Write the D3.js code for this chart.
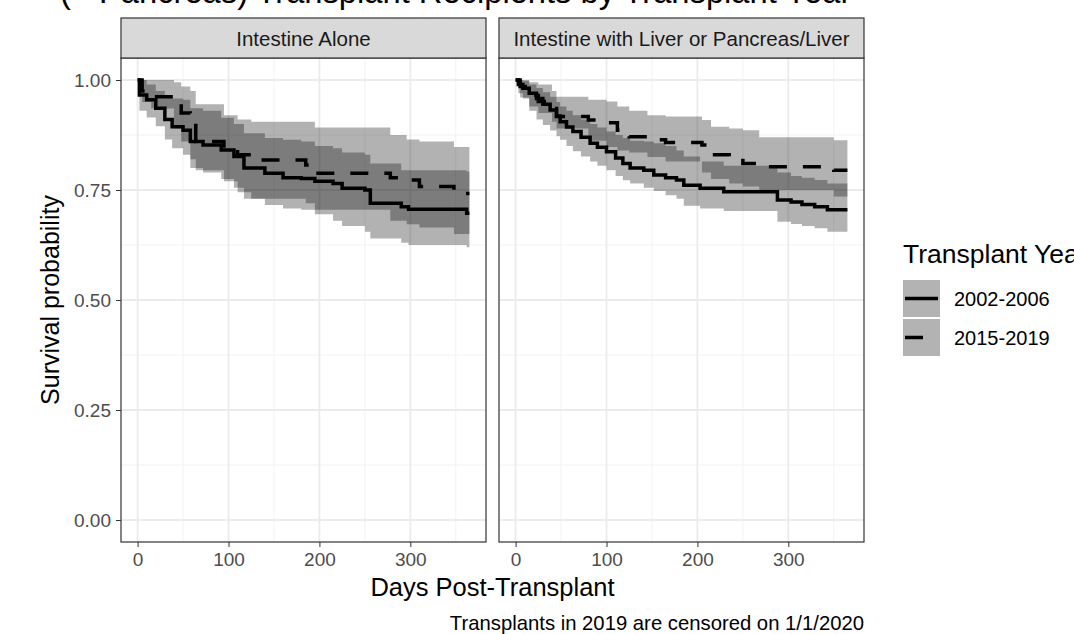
<!DOCTYPE html>
<html lang="en">
<head>
<meta charset="utf-8">
<title>Survival by transplant year</title>
<script src="https://d3js.org/d3.v7.min.js"></script>
<style>
  body { margin: 0; background: #fff; }
  svg { font-family: "Liberation Sans", Arial, sans-serif; display: block; }
  .tick text { fill: #4d4d4d; font-size: 19px; }
  .tick line { stroke: #333; }
  .domain { display: none; }
</style>
</head>
<body>
<script>
// facets and groups
var panels = ["Intestine Alone", "Intestine with Liver or Pancreas/Liver"];
var groups = ["2002-2006", "2015-2019"];
var xTicks = [0, 100, 200, 300];
var yTicks = [0, 0.25, 0.5, 0.75, 1];
var lastDay = 365;

// Intestine alone, 2002-2006
var aloneEarlyDays  = [0, 2, 10, 20, 30, 38, 50, 58, 72, 92, 106, 117, 140, 160, 180, 195, 215, 225, 250, 256, 290, 298, 362];
var aloneEarlySurv  = [1, .966, .955, .936, .91, .894, .886, .86, .852, .841, .826, .80, .788, .778, .776, .77, .765, .754, .75, .72, .712, .706, .697];
var aloneEarlyUpper = [1, 1, .99, .975, .965, .958, .955, .936, .93, .914, .90, .879, .868, .864, .86, .85, .845, .835, .83, .81, .795, .795, .792];
var aloneEarlyLower = [1, .93, .915, .895, .865, .845, .83, .80, .79, .775, .755, .73, .716, .708, .705, .695, .68, .668, .655, .64, .63, .625, .62];

// Intestine alone, 2015-2019
var aloneLateDays  = [0, 5, 15, 40, 48, 58, 64, 95, 110, 125, 185, 195, 278, 296, 310, 348];
var aloneLateSurv  = [1, .975, .962, .948, .925, .91, .86, .845, .83, .818, .807, .788, .778, .773, .758, .742];
var aloneLateUpper = [1, 1, 1, .995, .985, .975, .945, .92, .91, .905, .905, .892, .875, .865, .86, .848];
var aloneLateLower = [1, .95, .935, .89, .86, .82, .795, .77, .745, .73, .72, .705, .68, .672, .665, .65];

// Intestine with liver, 2002-2006
var comboEarlyDays  = [0, 3, 8, 15, 23, 30, 38, 45, 49, 56, 63, 72, 82, 90, 100, 110, 118, 126, 141, 152, 165, 177, 185, 203, 229, 288, 303, 315, 329, 343];
var comboEarlySurv  = [1, .99, .981, .97, .958, .945, .932, .918, .905, .893, .883, .87, .856, .847, .837, .823, .81, .80, .795, .784, .778, .773, .761, .754, .746, .727, .723, .717, .712, .705];
var comboEarlyUpper = [1, 1, .998, .99, .982, .972, .962, .95, .94, .93, .92, .91, .90, .892, .883, .875, .868, .862, .86, .856, .85, .84, .826, .815, .805, .79, .782, .778, .773, .765];
var comboEarlyLower = [1, .97, .958, .93, .91, .898, .885, .872, .864, .85, .838, .826, .815, .805, .795, .782, .772, .765, .755, .748, .738, .73, .714, .708, .702, .678, .673, .668, .663, .655];

// Intestine with liver, 2015-2019
var comboLateDays  = [0, 5, 15, 25, 40, 45, 80, 100, 112, 125, 145, 165, 205, 215, 235, 250, 268, 350];
var comboLateSurv  = [1, .985, .965, .951, .935, .917, .909, .903, .886, .871, .864, .858, .852, .83, .822, .81, .803, .795];
var comboLateUpper = [1, 1, .995, .99, .975, .962, .955, .951, .94, .93, .92, .917, .909, .894, .89, .886, .87, .863];
var comboLateLower = [1, .96, .94, .925, .905, .89, .862, .848, .84, .835, .825, .815, .79, .775, .765, .758, .75, .735];

function series(days, surv, upper, lower) {
  var rows = days.map(function(d, i) {
    return {day: d, surv: surv[i], upper: upper[i], lower: lower[i]};
  });
  var last = rows[rows.length - 1];
  rows.push({day: lastDay, surv: last.surv, upper: last.upper, lower: last.lower});
  return rows;
}

var facetData = [
  [series(aloneEarlyDays, aloneEarlySurv, aloneEarlyUpper, aloneEarlyLower),
   series(aloneLateDays, aloneLateSurv, aloneLateUpper, aloneLateLower)],
  [series(comboEarlyDays, comboEarlySurv, comboEarlyUpper, comboEarlyLower),
   series(comboLateDays, comboLateSurv, comboLateUpper, comboLateLower)]
];

var width = 1074, height = 634;
var panelLeft = [121, 499], panelW = 365;
var stripTop = 18, stripH = 40;
var plotTop = stripTop + stripH, plotBottom = 542;

var svg = d3.select("body").append("svg")
  .attr("width", width)
  .attr("height", height);

// title (top line is cut off in the source)
svg.append("text")
  .attr("x", 60).attr("y", 3)
  .attr("font-size", 32.7)
  .attr("fill", "#000")
  .text("(+ Pancreas) Transplant Recipients by Transplant Year");

var y = d3.scaleLinear().domain([-0.05, 1.05]).range([plotBottom, plotTop]);

panels.forEach(function(name, p) {
  var x = d3.scaleLinear()
    .domain([-0.05 * lastDay, 1.05 * lastDay])
    .range([panelLeft[p], panelLeft[p] + panelW]);

  var g = svg.append("g");

  g.append("rect")
    .attr("x", panelLeft[p]).attr("y", plotTop)
    .attr("width", panelW).attr("height", plotBottom - plotTop)
    .attr("fill", "#fff");

  // minor grid
  g.selectAll(".minorx").data([50, 150, 250, 350]).enter().append("line")
    .attr("x1", function(d) { return x(d); }).attr("x2", function(d) { return x(d); })
    .attr("y1", plotTop).attr("y2", plotBottom)
    .attr("stroke", "#f2f2f2").attr("stroke-width", 1);
  g.selectAll(".minory").data([0.125, 0.375, 0.625, 0.875]).enter().append("line")
    .attr("x1", panelLeft[p]).attr("x2", panelLeft[p] + panelW)
    .attr("y1", function(d) { return y(d); }).attr("y2", function(d) { return y(d); })
    .attr("stroke", "#f2f2f2").attr("stroke-width", 1);
  // major grid
  g.selectAll(".majorx").data(xTicks).enter().append("line")
    .attr("x1", function(d) { return x(d); }).attr("x2", function(d) { return x(d); })
    .attr("y1", plotTop).attr("y2", plotBottom)
    .attr("stroke", "#ebebeb").attr("stroke-width", 1.8);
  g.selectAll(".majory").data(yTicks).enter().append("line")
    .attr("x1", panelLeft[p]).attr("x2", panelLeft[p] + panelW)
    .attr("y1", function(d) { return y(d); }).attr("y2", function(d) { return y(d); })
    .attr("stroke", "#ebebeb").attr("stroke-width", 1.8);

  var area = d3.area().curve(d3.curveStepAfter)
    .x(function(d) { return x(d.day); })
    .y0(function(d) { return y(d.lower); })
    .y1(function(d) { return y(d.upper); });
  var line = d3.line().curve(d3.curveStepAfter)
    .x(function(d) { return x(d.day); })
    .y(function(d) { return y(d.surv); });

  facetData[p].forEach(function(s) {
    g.append("path").attr("d", area(s))
      .attr("fill", "#000").attr("fill-opacity", 0.3);
  });
  facetData[p].forEach(function(s, i) {
    g.append("path").attr("d", line(s))
      .attr("fill", "none").attr("stroke", "#000")
      .attr("stroke-width", 3.5)
      .attr("stroke-dasharray", i == 1 ? "18,16" : null);
  });

  g.append("rect")
    .attr("x", panelLeft[p]).attr("y", plotTop)
    .attr("width", panelW).attr("height", plotBottom - plotTop)
    .attr("fill", "none").attr("stroke", "#333").attr("stroke-width", 1.2);

  // strip
  g.append("rect")
    .attr("x", panelLeft[p]).attr("y", stripTop)
    .attr("width", panelW).attr("height", stripH)
    .attr("fill", "#d9d9d9").attr("stroke", "#333").attr("stroke-width", 1.2);
  g.append("text")
    .attr("x", panelLeft[p] + panelW / 2).attr("y", stripTop + 28)
    .attr("text-anchor", "middle").attr("font-size", 20.5).attr("fill", "#1a1a1a")
    .text(name);

  g.append("g")
    .attr("transform", "translate(0," + plotBottom + ")")
    .call(d3.axisBottom(x).tickValues(xTicks).tickSize(5).tickPadding(6));

  if (p == 0) {
    g.append("g")
      .attr("transform", "translate(" + panelLeft[p] + ",0)")
      .call(d3.axisLeft(y).tickValues(yTicks).tickSize(5).tickPadding(5)
        .tickFormat(d3.format(".2f")));
  }
});

// axis titles
svg.append("text")
  .attr("x", (panelLeft[0] + panelLeft[1] + panelW) / 2).attr("y", 596)
  .attr("text-anchor", "middle").attr("font-size", 25.5)
  .text("Days Post-Transplant");
svg.append("text")
  .attr("transform", "translate(59," + y(0.5) + ") rotate(-90)")
  .attr("text-anchor", "middle").attr("font-size", 25)
  .text("Survival probability");

svg.append("text")
  .attr("x", panelLeft[1] + panelW).attr("y", 630)
  .attr("text-anchor", "end").attr("font-size", 20.3)
  .text("Transplants in 2019 are censored on 1/1/2020");

// legend
var legend = svg.append("g").attr("transform", "translate(903,245)");
legend.append("text")
  .attr("x", 0).attr("y", 18)
  .attr("font-size", 26.5)
  .text("Transplant Year");
groups.forEach(function(name, i) {
  var ky = 35 + i * 39;
  legend.append("rect")
    .attr("x", 0).attr("y", ky).attr("width", 37).attr("height", 37)
    .attr("fill", "#b3b3b3");
  legend.append("line")
    .attr("x1", 2).attr("x2", 35)
    .attr("y1", ky + 18.5).attr("y2", ky + 18.5)
    .attr("stroke", "#000").attr("stroke-width", 3.5)
    .attr("stroke-dasharray", i == 1 ? "18,16" : null);
  legend.append("text")
    .attr("x", 51).attr("y", ky + 26)
    .attr("font-size", 20)
    .text(name);
});
</script>
</body>
</html>
